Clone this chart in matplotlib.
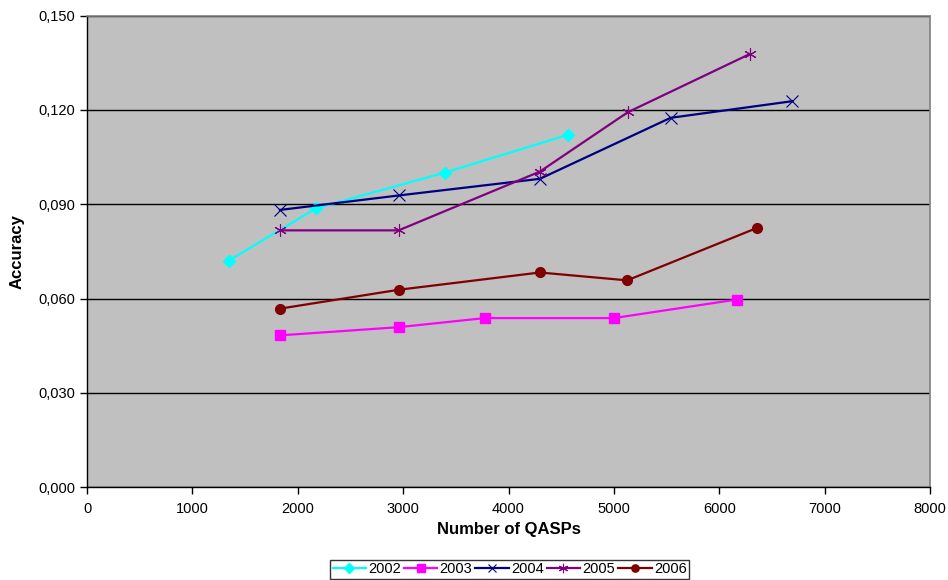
import matplotlib.pyplot as plt
from matplotlib.ticker import FuncFormatter

plt.rcParams['font.family'] = ['Liberation Sans', 'DejaVu Sans']

years = ["2002", "2003", "2004", "2005", "2006"]

x_2002 = [1347, 2173, 3397, 4564]
y_2002 = [0.0721, 0.0887, 0.1001, 0.1121]

x_2003 = [1831, 2957, 3776, 5000, 6167]
y_2003 = [0.0483, 0.0509, 0.0538, 0.0538, 0.0597]

x_2004 = [1831, 2957, 4298, 5538, 6695]
y_2004 = [0.0882, 0.0928, 0.0981, 0.1175, 0.1228]

x_2005 = [1831, 2957, 4298, 5133, 6290]
y_2005 = [0.0817, 0.0817, 0.1004, 0.1193, 0.1378]

x_2006 = [1831, 2957, 4298, 5126, 6360]
y_2006 = [0.0568, 0.0628, 0.0683, 0.0658, 0.0825]

y_ticks = [0.0, 0.03, 0.06, 0.09, 0.12, 0.15]
x_ticks = [0, 1000, 2000, 3000, 4000, 5000, 6000, 7000, 8000]

fig = plt.figure(figsize=(9.48, 5.80), dpi=100)
ax = fig.add_axes([0.0918, 0.160, 0.8892, 0.813])
ax.set_facecolor('#C0C0C0')

series = [
    (x_2002, y_2002, '#00FFFF', 'D', 6.5, 1.0),
    (x_2003, y_2003, '#FF00FF', 's', 7, 1.0),
    (x_2004, y_2004, '#000080', 'x', 8, 0.8),
    (x_2005, y_2005, '#800080', (6, 2, 0), 9, 0.8),
    (x_2006, y_2006, '#800000', 'o', 7, 1.0),
]

for (xs, ys, c, m, ms, mw), yr in zip(series, years):
    ax.plot(xs, ys, color=c, lw=1.6, marker=m, ms=ms, mec=c, mfc=c,
            mew=mw, label=yr, zorder=3)

ax.set_xlim(0, 8000)
ax.set_ylim(0, 0.15)
ax.set_xticks(x_ticks)
ax.set_yticks(y_ticks)
ax.yaxis.set_major_formatter(FuncFormatter(lambda v, p: f"{v:.3f}".replace('.', ',')))
ax.grid(axis='y', color='black', lw=1.0, zorder=1)
ax.set_axisbelow(True)

for s in ['top', 'right']:
    ax.spines[s].set_color('#808080')
    ax.spines[s].set_linewidth(1.2)
for s in ['left', 'bottom']:
    ax.spines[s].set_color('black')
    ax.spines[s].set_linewidth(1.0)

ax.tick_params(direction='out', length=5, width=1, labelsize=10.5, colors='black')
ax.tick_params(axis='x', pad=6)

ax.set_xlabel("Number of QASPs", fontsize=12, fontweight='bold', labelpad=4)
ax.set_ylabel("Accuracy", fontsize=12, fontweight='bold', labelpad=10)

leg = fig.legend(loc='lower center', bbox_to_anchor=(0.5375, 0.0), ncol=5,
                 fontsize=10.5, frameon=True, fancybox=False, edgecolor='black',
                 handlelength=2.3, handletextpad=0.15, columnspacing=0.2,
                 borderpad=0.15, borderaxespad=0.1, markerscale=0.75)
leg.get_frame().set_linewidth(1.0)

fig.savefig('out.png', dpi=100)
